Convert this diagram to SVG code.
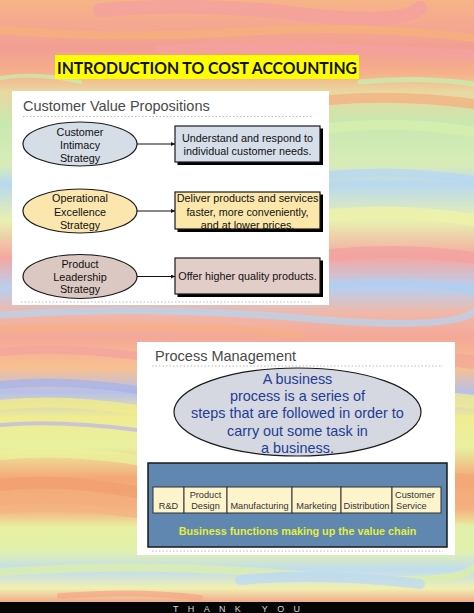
<svg xmlns="http://www.w3.org/2000/svg" width="474" height="613" viewBox="0 0 474 613">
<defs>
<linearGradient id="bg" x1="0" y1="0" x2="0" y2="1">
<stop offset="0" stop-color="#f6b486"/>
<stop offset="0.04" stop-color="#f5a890"/>
<stop offset="0.08" stop-color="#f29e94"/>
<stop offset="0.12" stop-color="#f6b08a"/>
<stop offset="0.15" stop-color="#e8d8a0"/>
<stop offset="0.2" stop-color="#c8e8b0"/>
<stop offset="0.27" stop-color="#d8ecb8"/>
<stop offset="0.3" stop-color="#b8d8f0"/>
<stop offset="0.36" stop-color="#e8f0b0"/>
<stop offset="0.42" stop-color="#f4a8a0"/>
<stop offset="0.47" stop-color="#b8d0f0"/>
<stop offset="0.51" stop-color="#f0b8a8"/>
<stop offset="0.55" stop-color="#f4a898"/>
<stop offset="0.6" stop-color="#f8c090"/>
<stop offset="0.64" stop-color="#b8c0ea"/>
<stop offset="0.68" stop-color="#f0ec90"/>
<stop offset="0.73" stop-color="#e8f0a0"/>
<stop offset="0.78" stop-color="#f4a878"/>
<stop offset="0.83" stop-color="#f4b080"/>
<stop offset="0.86" stop-color="#e8f0a0"/>
<stop offset="0.9" stop-color="#e0f0b0"/>
<stop offset="0.93" stop-color="#c0dcf0"/>
<stop offset="0.96" stop-color="#f0f0b0"/>
<stop offset="0.98" stop-color="#f0b090"/>
</linearGradient>
<marker id="arr" viewBox="0 0 6 6" refX="6" refY="3" markerWidth="4" markerHeight="4" orient="auto">
<path d="M0 0 L6 3 L0 6 Z" fill="#111"/>
</marker>
<filter id="sh" x="-5%" y="-5%" width="110%" height="120%"><feOffset dx="2.5" dy="2.5" in="SourceAlpha"/></filter>
</defs>
<style>
.t{font-family:"Liberation Sans",Arial,sans-serif;fill:#111;font-size:10.8px;text-anchor:middle}
.hd{font-family:"Liberation Sans",Arial,sans-serif;fill:#4a4a4a;font-size:14.5px}
.bl{font-family:"Liberation Sans",Arial,sans-serif;fill:#1f3c96;font-size:14.4px;text-anchor:middle}
.c{font-family:"Liberation Sans",Arial,sans-serif;fill:#333;font-size:9.2px;text-anchor:middle}
.el{stroke:#1a1a1a;stroke-width:1.2}
.bx{stroke:#1a1a1a;stroke-width:1.2}
.dot{stroke:#b8b8b8;stroke-width:1;stroke-dasharray:1.5 2}
.st{fill:none;stroke-linecap:round}
.cell{fill:#fdf4cc;stroke:#333;stroke-width:1}
</style>

<!-- background -->
<rect x="0" y="0" width="474" height="613" fill="url(#bg)"/>
<g class="st" opacity="0.75">
<path d="M100 10 Q200 2 300 14 T420 8" stroke="#f4a0a0" stroke-width="14"/>
<path d="M0 30 Q120 40 240 32 T474 38" stroke="#f7b27a" stroke-width="8"/>
<path d="M160 50 Q300 44 474 55" stroke="#f5a2a0" stroke-width="10"/>
<path d="M0 78 Q40 72 80 82" stroke="#c8eeb0" stroke-width="4"/>
<path d="M360 82 Q420 76 474 84" stroke="#c8eeb0" stroke-width="5"/>
<path d="M330 100 Q400 94 474 104" stroke="#f6b080" stroke-width="10"/>
<path d="M330 128 Q400 120 474 132" stroke="#d8f0b0" stroke-width="10"/>
<path d="M330 175 Q400 168 474 180" stroke="#b8d8f4" stroke-width="8"/>
<path d="M330 215 Q400 208 474 220" stroke="#f0f4a8" stroke-width="12"/>
<path d="M330 255 Q400 248 474 258" stroke="#f4a2a0" stroke-width="12"/>
<path d="M330 285 Q400 278 474 290" stroke="#b0cff0" stroke-width="8"/>
<path d="M0 315 Q150 305 300 318 T474 312" stroke="#b8d4f0" stroke-width="7"/>
<path d="M0 330 Q150 322 300 334" stroke="#f6b088" stroke-width="8"/>
<path d="M0 352 Q60 346 137 356" stroke="#f4a4a0" stroke-width="8"/>
<path d="M0 385 Q60 378 137 390" stroke="#a8b4e8" stroke-width="8"/>
<path d="M0 405 Q60 398 137 410" stroke="#f4ee88" stroke-width="10"/>
<path d="M0 425 Q60 420 137 430" stroke="#c0b8e8" stroke-width="4"/>
<path d="M0 455 Q60 448 137 460" stroke="#ecf29c" stroke-width="10"/>
<path d="M0 485 Q60 478 137 492" stroke="#f2a070" stroke-width="12"/>
<path d="M0 510 Q60 504 137 514" stroke="#f4b484" stroke-width="8"/>
<path d="M0 540 Q60 534 137 544" stroke="#e4f2a4" stroke-width="8"/>
<path d="M0 572 Q150 562 300 575 T474 568" stroke="#dcf0a8" stroke-width="8"/>
<path d="M240 580 Q320 572 420 584" stroke="#bcdaf2" stroke-width="10"/>
<path d="M60 596 Q140 590 200 598" stroke="#f4a888" stroke-width="6"/>
<path d="M455 360 L474 362" stroke="#f4a898" stroke-width="14"/>
<path d="M455 400 L474 402" stroke="#f0ec90" stroke-width="14"/>
<path d="M455 480 L474 482" stroke="#f4a878" stroke-width="14"/>
<path d="M455 530 L474 532" stroke="#e0f0b0" stroke-width="14"/>
</g>

<!-- title -->
<g id="title">
<rect x="55" y="55" width="304" height="24" fill="#ffff00"/>
<text x="57" y="73.5" font-family="Lato,'Open Sans',sans-serif" font-weight="bold" font-size="17.5" fill="#111" textLength="300" lengthAdjust="spacingAndGlyphs">INTRODUCTION TO COST ACCOUNTING</text>
</g>

<!-- panel 1 -->
<g id="panel-cvp">
<rect x="12" y="91" width="317" height="214" fill="#ffffff"/>
<text class="hd" x="23" y="111">Customer Value Propositions</text>
<line class="dot" x1="23" y1="116.5" x2="312" y2="116.5"/>
<line class="dot" x1="21" y1="302" x2="312" y2="302"/>
</g>

<g id="e-intimacy">
<ellipse class="el" cx="80" cy="144" rx="57" ry="22" fill="#d5dde7"/>
<text class="t" x="80" y="136">Customer</text>
<text class="t" x="80" y="149">Intimacy</text>
<text class="t" x="80" y="162">Strategy</text>
</g>
<g id="b-intimacy">
<rect x="175" y="126" width="145" height="36" fill="#111" filter="url(#sh)"/>
<rect class="bx" x="175" y="126" width="145" height="36" fill="#d6dfe9"/>
<text class="t" x="247.5" y="142">Understand and respond to</text>
<text class="t" x="247.5" y="155">individual customer needs.</text>
</g>

<g id="e-operational">
<ellipse class="el" cx="80" cy="211" rx="57" ry="22" fill="#fbe6ae"/>
<text class="t" x="80" y="202.3">Operational</text>
<text class="t" x="80" y="215.6">Excellence</text>
<text class="t" x="80" y="228.5">Strategy</text>
</g>
<g id="b-operational">
<rect x="175" y="192" width="145" height="37" fill="#111" filter="url(#sh)"/>
<rect class="bx" x="175" y="192" width="145" height="37" fill="#fce7aa"/>
<text class="t" x="247.5" y="202.3">Deliver products and services</text>
<text class="t" x="247.5" y="215.6">faster, more conveniently,</text>
<text class="t" x="247.5" y="228.5">and at lower prices.</text>
</g>

<g id="e-product">
<ellipse class="el" cx="80" cy="276.5" rx="57" ry="22" fill="#dcc8c2"/>
<text class="t" x="80" y="267.6">Product</text>
<text class="t" x="80" y="280.5">Leadership</text>
<text class="t" x="80" y="293.4">Strategy</text>
</g>
<g id="b-product">
<rect x="175" y="258" width="145" height="36" fill="#111" filter="url(#sh)"/>
<rect class="bx" x="175" y="258" width="145" height="36" fill="#e3cdc8"/>
<text class="t" x="247.5" y="280.4">Offer higher quality products.</text>
</g>

<g id="connectors" stroke="#111" stroke-width="1" fill="none">
<line x1="137" y1="144" x2="175" y2="144" marker-end="url(#arr)"/>
<line x1="137" y1="211" x2="175" y2="211" marker-end="url(#arr)"/>
<line x1="137" y1="276.5" x2="175" y2="276.5" marker-end="url(#arr)"/>
</g>

<!-- panel 2 -->
<g id="panel-pm">
<rect x="137" y="342" width="318" height="213" fill="#ffffff"/>
<text class="hd" x="155" y="360.5">Process Management</text>
<line class="dot" x1="152" y1="366" x2="443" y2="366"/>
<line class="dot" x1="152" y1="551" x2="443" y2="551"/>
</g>

<g id="e-process">
<ellipse class="el" cx="297.5" cy="412" rx="123.5" ry="44" fill="#d5d8e0"/>
<text class="bl" x="297.5" y="383.5">A business</text>
<text class="bl" x="297.5" y="401">process is a series of</text>
<text class="bl" x="297.5" y="418">steps that are followed in order to</text>
<text class="bl" x="297.5" y="435.5">carry out some task in</text>
<text class="bl" x="297.5" y="452.5">a business.</text>
</g>

<g id="value-chain">
<rect x="148" y="463" width="299" height="84" fill="#5f87b0" stroke="#1a1a1a" stroke-width="1.5"/>
<rect class="cell" x="153" y="487" width="31" height="26"/>
<rect class="cell" x="184" y="487" width="43" height="26"/>
<rect class="cell" x="227" y="487" width="65" height="26"/>
<rect class="cell" x="292" y="487" width="49" height="26"/>
<rect class="cell" x="341" y="487" width="51" height="26"/>
<rect class="cell" x="392" y="487" width="49" height="26"/>
<text class="c" x="168.5" y="508.5">R&amp;D</text>
<text class="c" x="205.5" y="497.5">Product</text>
<text class="c" x="205.5" y="508.5">Design</text>
<text class="c" x="259.5" y="508.5">Manufacturing</text>
<text class="c" x="316.5" y="508.5">Marketing</text>
<text class="c" x="366.5" y="508.5">Distribution</text>
<text class="c" x="395" y="497.5" style="text-anchor:start">Customer</text>
<text class="c" x="396" y="508.5" style="text-anchor:start">Service</text>
<text x="297.5" y="534.5" font-family="'Liberation Sans',Arial,sans-serif" font-weight="bold" font-size="10.8" fill="#e4ee3c" text-anchor="middle">Business functions making up the value chain</text>
</g>

<!-- footer -->
<g id="footer">
<rect x="0" y="602" width="474" height="11" fill="#050505"/>
<text x="173" y="611.5" font-family="'Liberation Sans',Arial,sans-serif" font-size="9" fill="#d8d8d8" textLength="127" lengthAdjust="spacing">THANK YOU</text>
</g>
</svg>
